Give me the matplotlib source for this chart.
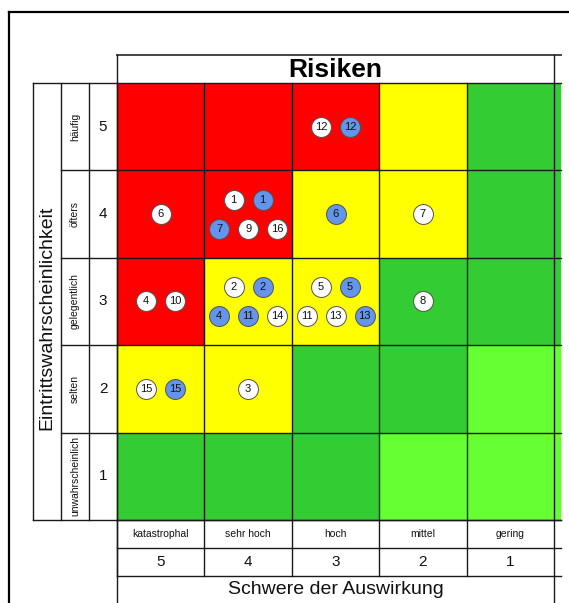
import matplotlib
matplotlib.use("Agg")
import matplotlib.pyplot as plt
from matplotlib.patches import Rectangle

plt.rcParams['font.family'] = ['Liberation Sans', 'DejaVu Sans']

# ---------------------------------------------------------------- data
title = "Risiken"
x_title = "Schwere der Auswirkung"
y_title = "Eintrittswahrscheinlichkeit"

impact_labels = ["katastrophal", "sehr hoch", "hoch", "mittel", "gering"]
impact_scores = [5, 4, 3, 2, 1]
likelihood_labels = ["häufig", "öfters", "gelegentlich", "selten", "unwahrscheinlich"]
likelihood_scores = [5, 4, 3, 2, 1]

# risk level of each cell: rows = likelihood 5..1, columns = impact 5..1
level_grid = [
    ["hoch",    "hoch",    "hoch",    "mittel",  "niedrig"],
    ["hoch",    "hoch",    "mittel",  "mittel",  "niedrig"],
    ["hoch",    "mittel",  "mittel",  "niedrig", "niedrig"],
    ["mittel",  "mittel",  "niedrig", "niedrig", "gering"],
    ["niedrig", "niedrig", "niedrig", "gering",  "gering"],
]
level_colors = {"hoch": "#FF0000", "mittel": "#FFFF00",
                "niedrig": "#33CC33", "gering": "#66FF33"}

# individual risks: id, state (ist = white, soll = blue), impact, likelihood
risk_ids = [12, 12,
            6, 1, 1, 7, 9, 16, 6, 7,
            4, 10, 2, 2, 4, 11, 14, 5, 5, 11, 13, 13, 8,
            15, 15, 3]
risk_state = ["ist", "soll",
              "ist", "ist", "soll", "soll", "ist", "ist", "soll", "ist",
              "ist", "ist", "ist", "soll", "soll", "soll", "ist", "ist", "soll", "ist", "ist", "soll", "ist",
              "ist", "soll", "ist"]
risk_impact = [3, 3,
               5, 4, 4, 4, 4, 4, 3, 2,
               5, 5, 4, 4, 4, 4, 4, 3, 3, 3, 3, 3, 2,
               5, 5, 4]
risk_likelihood = [5, 5,
                   4, 4, 4, 4, 4, 4, 4, 4,
                   3, 3, 3, 3, 3, 3, 3, 3, 3, 3, 3, 3, 3,
                   2, 2, 2]
state_colors = {"ist": "#FFFFFF", "soll": "#6495ED"}

# ---------------------------------------------------------------- layout
W_PX, H_PX, DPI = 569, 603, 100
CELL_PX = 87.4                 # one matrix cell in pixels
ORIGIN_PX = (117, 520)         # lower left corner of the matrix
BAND = 28 / CELL_PX            # thickness of header rows / columns
RIGHT = 5 + 7 / CELL_PX        # table is cut off just right of the matrix
FRAME_X = -(ORIGIN_PX[0] - 8.5) / CELL_PX
FRAME_Y = (ORIGIN_PX[1] - 12.5) / CELL_PX
SPACING = 29 / CELL_PX         # distance between markers inside a cell
Y_TITLE_POS = 2.31             # vertical anchor of the rotated axis title

fig = plt.figure(figsize=(W_PX / DPI, H_PX / DPI), dpi=DPI)
ax = fig.add_axes([0, 0, 1, 1])
ax.set_xlim(-ORIGIN_PX[0] / CELL_PX, (W_PX - ORIGIN_PX[0]) / CELL_PX)
ax.set_ylim(-(H_PX - ORIGIN_PX[1]) / CELL_PX, ORIGIN_PX[1] / CELL_PX)
ax.axis("off")
x0, x1 = ax.get_xlim()
y0, y1 = ax.get_ylim()

LINE = "#1a1a1a"
LW = 1.0

n_rows = len(likelihood_scores)
n_cols = len(impact_scores)

# matrix cells
for r, row in enumerate(level_grid):
    y = n_rows - 1 - r
    for c, level in enumerate(row):
        w = RIGHT - c if c == n_cols - 1 else 1
        ax.add_patch(Rectangle((c, y), w, 1, facecolor=level_colors[level],
                               edgecolor="none", zorder=1))

# matrix grid lines
for k in range(n_rows + 1):
    ax.plot([0, RIGHT], [k, k], color=LINE, lw=LW, zorder=2)
for k in range(n_cols + 1):
    ax.plot([k, k], [0, n_rows], color=LINE, lw=LW, zorder=2)

# title box
ax.plot([0, RIGHT], [n_rows + BAND] * 2, color="#444444", lw=1.4, zorder=2)
ax.plot([0, 0], [n_rows, n_rows + BAND], color=LINE, lw=LW, zorder=2)
ax.plot([n_cols] * 2, [n_rows, n_rows + BAND], color=LINE, lw=LW, zorder=2)
ax.text(n_cols / 2, n_rows + BAND / 2 - 0.01, title, ha="center", va="center",
        fontsize=19, fontweight="bold", color="black")

# left header: y title | likelihood labels | likelihood scores
lx = [-3 * BAND, -2 * BAND, -BAND, 0]
ax.plot([lx[0], 0], [n_rows] * 2, color=LINE, lw=LW, zorder=2)
ax.plot([lx[0], 0], [0, 0], color=LINE, lw=LW, zorder=2)
for xv in lx:
    ax.plot([xv, xv], [0, n_rows], color=LINE, lw=LW, zorder=2)
ax.plot([0, 0], [y0, 0], color=LINE, lw=LW, zorder=2)
for k in range(1, n_rows):
    ax.plot([lx[1], 0], [k, k], color=LINE, lw=LW, zorder=2)
ax.text((lx[0] + lx[1]) / 2, Y_TITLE_POS, y_title, rotation=90,
        ha="center", va="center", fontsize=14, color="#111111")
for lab, sc in zip(likelihood_labels, likelihood_scores):
    yc = sc - 0.5
    ax.text((lx[1] + lx[2]) / 2, yc, lab, rotation=90, ha="center", va="center",
            fontsize=7.5, color="#111111")
    ax.text((lx[2] + lx[3]) / 2, yc, str(sc), ha="center", va="center",
            fontsize=11, color="#111111")

# bottom header: impact labels | impact scores | x title
for k in range(3):
    ax.plot([0, RIGHT], [-k * BAND] * 2, color=LINE, lw=LW, zorder=2)
for k in range(n_cols + 1):
    ax.plot([k, k], [-2 * BAND, 0], color=LINE, lw=LW, zorder=2)
ax.plot([n_cols] * 2, [y0, -2 * BAND], color=LINE, lw=LW, zorder=2)
for c, (lab, sc) in enumerate(zip(impact_labels, impact_scores)):
    ax.text(c + 0.5, -BAND / 2, lab, ha="center", va="center",
            fontsize=7.5, color="#111111")
    ax.text(c + 0.5, -1.5 * BAND, str(sc), ha="center", va="center",
            fontsize=11, color="#111111")
ax.text(n_cols / 2, -2.5 * BAND, x_title, ha="center", va="center",
        fontsize=14, color="#111111")

# outer frame
ax.plot([FRAME_X, FRAME_X], [y0, FRAME_Y], color="black", lw=1.6, zorder=3,
        solid_capstyle="projecting")
ax.plot([FRAME_X, x1], [FRAME_Y, FRAME_Y], color="black", lw=1.6, zorder=3,
        solid_capstyle="projecting")

# risk markers, arranged inside each cell
cells = {}
for rid, st, imp, lik in zip(risk_ids, risk_state, risk_impact, risk_likelihood):
    cells.setdefault((imp, lik), []).append((rid, st))

for (imp, lik), items in cells.items():
    cx = impact_scores.index(imp) + 0.5
    cy = lik - 0.5
    n = len(items)
    rows = [items] if n <= 3 else [items[: n // 2], items[n // 2:]]
    for ri, row in enumerate(rows):
        dy = 0 if len(rows) == 1 else (SPACING / 2 if ri == 0 else -SPACING / 2)
        for j, (rid, st) in enumerate(row):
            dx = (j - (len(row) - 1) / 2) * SPACING
            ax.scatter(cx + dx, cy + dy, s=205, color=state_colors[st],
                       edgecolors="#505050", linewidths=0.7, zorder=4)
            ax.text(cx + dx, cy + dy, str(rid), ha="center", va="center",
                    fontsize=8, color="#111111", zorder=5)

fig.savefig("out.png", dpi=DPI)
